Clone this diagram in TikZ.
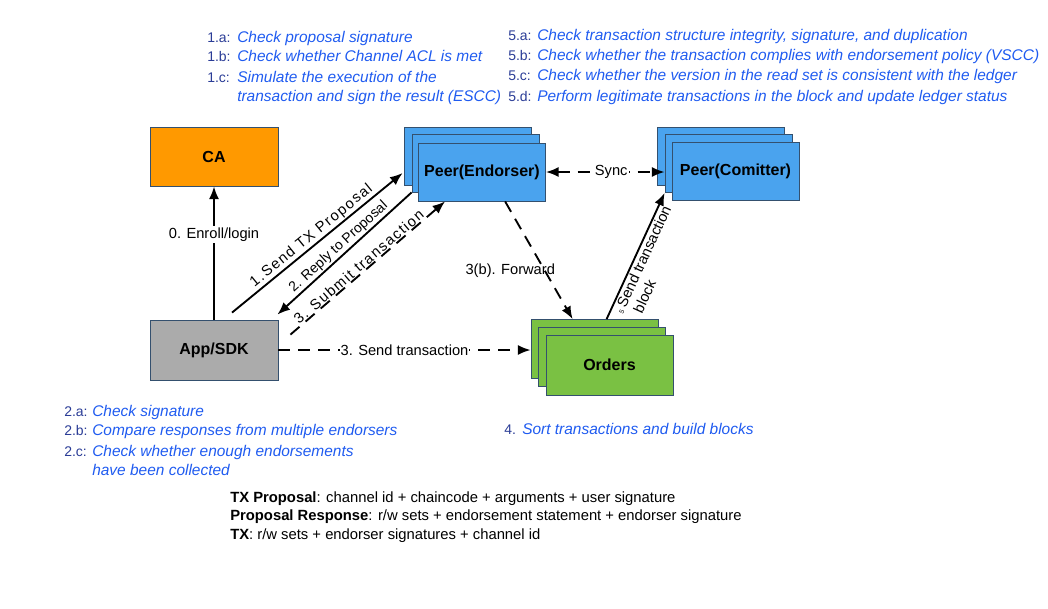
\documentclass[tikz,border=0pt]{standalone}
\usepackage{fontspec}
\setmainfont{Liberation Sans}
\usetikzlibrary{arrows.meta,calc}
\definecolor{caorange}{HTML}{FF9900}
\definecolor{appgray}{HTML}{ABABAB}
\definecolor{peerblue}{HTML}{4AA3EE}
\definecolor{ordgreen}{HTML}{7AC143}
\definecolor{boxline}{HTML}{34506E}
\definecolor{prefblue}{HTML}{2A3C96}
\definecolor{noteblue}{HTML}{1F5BF0}
\begin{document}
\begin{tikzpicture}[x=0.75pt,y=-0.75pt,
  box/.style={draw=boxline, line width=0.6pt, minimum width=95.25pt, minimum height=43.5pt, inner sep=0pt, font=\bfseries\fontsize{12}{14}\selectfont},
  conn/.style={line width=1.4pt, -{Latex[length=9.5pt,width=7.5pt]}},
  connback/.style={line width=1.4pt, {Latex[length=9.5pt,width=7.5pt]}-},
  connboth/.style={line width=1.4pt, {Latex[length=9.5pt,width=7.5pt]}-{Latex[length=9.5pt,width=7.5pt]}},
  dashline/.style={dash pattern=on 9pt off 6pt},
  lbl/.style={font=\fontsize{11}{13}\selectfont, inner sep=1.5pt},
  pref/.style={anchor=base west, inner sep=0pt, text=prefblue, font=\fontsize{10.5}{13}\selectfont},
  note/.style={anchor=base west, inner sep=0pt, text=noteblue, font=\itshape\fontsize{11.6}{13}\selectfont},
  plain/.style={anchor=base west, inner sep=0pt, font=\fontsize{11.1}{13}\selectfont}]
\useasboundingbox (0,0) rectangle (1048,608);

% boxes
\node[box, fill=caorange, minimum width=96pt, minimum height=44.25pt] (ca) at (214,156.5) {CA};
\node[box, fill=appgray, minimum width=96pt, minimum height=45pt] (app) at (214,350) {App/SDK};

\node[box, fill=peerblue] (eb) at (467.5,156) {};
\node[box, fill=peerblue] (em) at (475.5,163) {};
\node[box, fill=peerblue] (ef) at (482,172) {Peer(Endorser)};

\node[box, fill=peerblue] (cb) at (721,156) {};
\node[box, fill=peerblue] (cm) at (728.5,163.5) {};
\node[box, fill=peerblue] (cf) at (735.5,171.5) {Peer(Comitter)};

\node[box, fill=ordgreen, minimum height=44.25pt] (ob) at (594.5,349) {};
\node[box, fill=ordgreen, minimum height=44.25pt] (om) at (602,357) {};
\node[box, fill=ordgreen, minimum height=45pt] (of) at (609.5,365) {Orders};

% connectors
\draw[conn] (app.north) -- (ca.south)
  node[lbl, pos=0.64, fill=white] (l0) {0. Enroll/login};
\draw[conn] ([shift={(18,-7)}]app.north) -- ([shift={(-1,17)}]eb.west)
  node[lbl, midway, sloped, above, inner sep=1pt] (l1) {\addfontfeature{LetterSpace=10}1.Send TX Proposal};
\draw[connback] ([shift={(-1,-5)}]app.north east) -- (em.south west)
  node[lbl, midway, sloped, above, inner sep=1pt, font=\fontsize{10.5}{12}\selectfont] (l2) {2. Reply to Proposal};
\draw[conn, dashline] ([shift={(12,15)}]app.north east) -- ([shift={(27,0)}]ef.south west)
  node[lbl, pos=0.47, sloped, above, inner sep=0.5pt] (l3) {\addfontfeature{LetterSpace=10}3. Submit transaction};
\draw[conn, dashline] (app.east) -- (app.east -| ob.west)
  node[lbl, midway, fill=white, inner sep=0.5pt] (l3s) {3. Send transaction};
\draw[conn, dashline] ([shift={(87,0)}]ef.south west) -- ([shift={(42,0)}]ob.north west)
  node[lbl, pos=0.59, xshift=-26pt] (l3b) {3(b). Forward};
\draw[connboth, dashline] (ef.east) -- (ef.east -| cm.west)
  node[lbl, pos=0.55, fill=white] (lsync) {Sync};
\draw[conn] ([shift={(76,0)}]ob.north west) -- (cm.south west)
  node[lbl, midway, sloped, below, align=left, inner sep=1pt] (l5) {{\fontsize{5}{6}\selectfont 5}\,Send transaction\\ \ \ block};

% notes 1
\node[pref] (p1a) at (207,42) {1.a:};
\node[note] (t1a) at (237,42) {Check proposal signature};
\node[pref] (p1b) at (207,61) {1.b:};
\node[note] (t1b) at (237,61) {Check whether Channel ACL is met};
\node[pref] (p1c) at (207,82) {1.c:};
\node[note] (t1c) at (237,82) {Simulate the execution of the};
\node[note] (t1d) at (237,101) {transaction and sign the result (ESCC)};

% notes 5
\node[pref] (p5a) at (508,40) {5.a:};
\node[note] (t5a) at (537,40) {Check transaction structure integrity, signature, and duplication};
\node[pref] (p5b) at (508,60) {5.b:};
\node[note] (t5b) at (537,60) {Check whether the transaction complies with endorsement policy (VSCC)};
\node[pref] (p5c) at (508,80) {5.c:};
\node[note] (t5c) at (537,80) {Check whether the version in the read set is consistent with the ledger};
\node[pref] (p5d) at (508,101) {5.d:};
\node[note] (t5d) at (537,101) {Perform legitimate transactions in the block and update ledger status};

% notes 2
\node[pref] (p2a) at (64,416) {2.a:};
\node[note] (t2a) at (92,416) {Check signature};
\node[pref] (p2b) at (64,435) {2.b:};
\node[note] (t2b) at (92,435) {Compare responses from multiple endorsers};
\node[pref] (p2c) at (64,456) {2.c:};
\node[note] (t2c) at (92,456) {Check whether enough endorsements};
\node[note] (t2d) at (92,475) {have been collected};

% note 4
\node[pref] (p4) at (504,434) {4.};
\node[note] (t4) at (522,434) {Sort transactions and build blocks};

% legend
\node[plain] (g1) at (230,502) {\textbf{TX Proposal}: channel id + chaincode + arguments + user signature};
\node[plain] (g2) at (230,520) {\textbf{Proposal Response}: r/w sets + endorsement statement + endorser signature};
\node[plain] (g3) at (230,539) {\textbf{TX}: r/w sets + endorser signatures + channel id};
\end{tikzpicture}
\end{document}
